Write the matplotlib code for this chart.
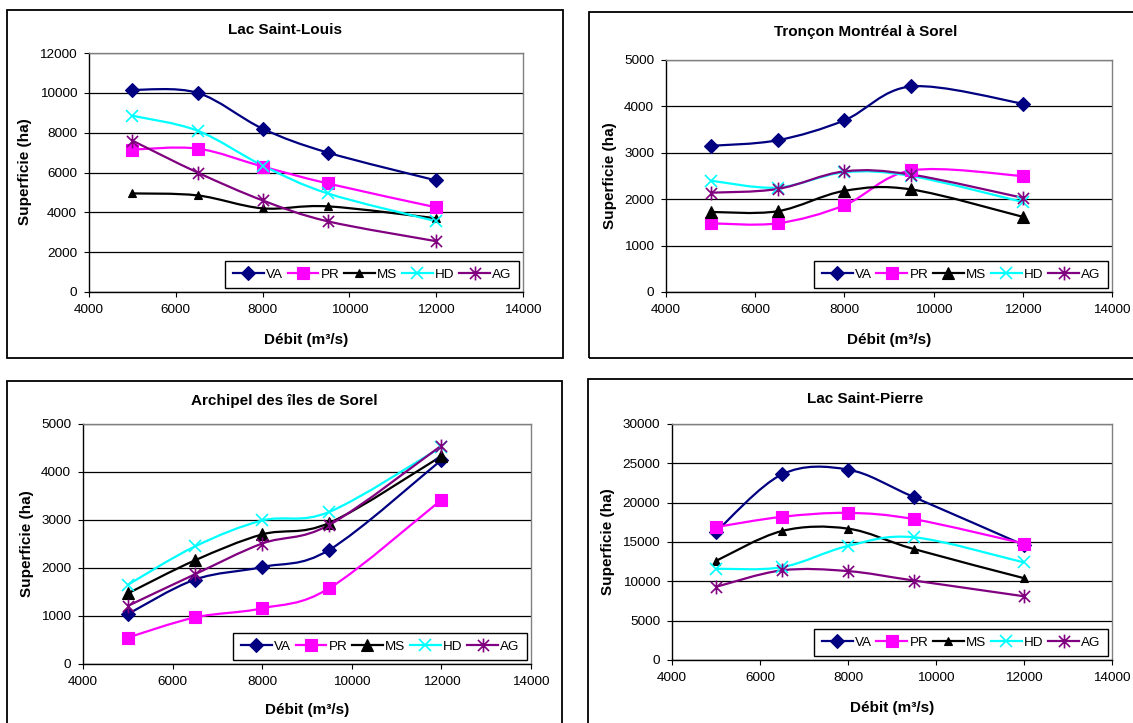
import numpy as np
import matplotlib
matplotlib.use('Agg')
import matplotlib.pyplot as plt
from matplotlib.path import Path
from matplotlib.patches import PathPatch, Rectangle
from matplotlib.lines import Line2D

plt.rcParams['font.family'] = ['Liberation Sans', 'DejaVu Sans']

# ---------------- data ----------------
debit = [5000, 6500, 8000, 9500, 12000]
series_names = ['VA', 'PR', 'MS', 'HD', 'AG']

titles = ['Lac Saint-Louis', 'Tronçon Montréal à Sorel',
          'Archipel des îles de Sorel', 'Lac Saint-Pierre']

# Lac Saint-Louis
sl_VA = [10150, 10000, 8200, 7000, 5600]
sl_PR = [7150, 7200, 6300, 5450, 4250]
sl_MS = [4950, 4850, 4200, 4300, 3700]
sl_HD = [8850, 8100, 6350, 4950, 3550]
sl_AG = [7600, 6000, 4600, 3550, 2550]

# Tronçon Montréal à Sorel
tm_VA = [3150, 3270, 3700, 4430, 4060]
tm_PR = [1480, 1480, 1870, 2620, 2500]
tm_MS = [1725, 1740, 2180, 2210, 1620]
tm_HD = [2400, 2250, 2580, 2500, 1940]
tm_AG = [2140, 2220, 2600, 2530, 2030]

# Archipel des îles de Sorel
ar_VA = [1040, 1760, 2020, 2380, 4250]
ar_PR = [550, 970, 1160, 1580, 3420]
ar_MS = [1470, 2160, 2700, 2940, 4330]
ar_HD = [1650, 2450, 2990, 3170, 4520]
ar_AG = [1210, 1870, 2510, 2900, 4550]

# Lac Saint-Pierre
sp_VA = [16300, 23600, 24200, 20700, 14600]
sp_PR = [16900, 18200, 18700, 17900, 14800]
sp_MS = [12600, 16400, 16700, 14100, 10400]
sp_HD = [11600, 11800, 14500, 15600, 12400]
sp_AG = [9300, 11400, 11300, 10100, 8100]

yticks_sl = [0, 2000, 4000, 6000, 8000, 10000, 12000]
yticks_tm = [0, 1000, 2000, 3000, 4000, 5000]
yticks_ar = [0, 1000, 2000, 3000, 4000, 5000]
yticks_sp = [0, 5000, 10000, 15000, 20000, 25000, 30000]
xticks = [4000, 6000, 8000, 10000, 12000, 14000]

panels = [
    dict(title=titles[0], data=[sl_VA, sl_PR, sl_MS, sl_HD, sl_AG], yticks=yticks_sl,
         ax=(89, 53, 523, 292), box=(7, 10, 563, 358), tri=5.5,
         title_xy=(285, 30), xl_xy=(306, 340), yl_xy=(25, 172)),
    dict(title=titles[1], data=[tm_VA, tm_PR, tm_MS, tm_HD, tm_AG], yticks=yticks_tm,
         ax=(666, 60, 1112, 292), box=(589, 12, 1150, 358), tri=8,
         title_xy=(866, 32), xl_xy=(889, 340), yl_xy=(610, 176)),
    dict(title=titles[2], data=[ar_VA, ar_PR, ar_MS, ar_HD, ar_AG], yticks=yticks_ar,
         ax=(83, 424, 531, 664), box=(7, 381, 562, 740), tri=8,
         title_xy=(284, 401), xl_xy=(307, 710), yl_xy=(27, 544)),
    dict(title=titles[3], data=[sp_VA, sp_PR, sp_MS, sp_HD, sp_AG], yticks=yticks_sp,
         ax=(672, 424, 1112, 660), box=(588, 379, 1150, 740), tri=5.5,
         title_xy=(865, 399), xl_xy=(892, 708), yl_xy=(608, 542)),
]

# ---------------- style ----------------
W, H = 1133, 723
colors = {'VA': '#000080', 'PR': '#FF00FF', 'MS': '#000000', 'HD': '#00FFFF', 'AG': '#800080'}
star = Path([(-0.8, -0.8), (0.8, 0.8), (-0.8, 0.8), (0.8, -0.8), (0, -1), (0, 1)],
            [Path.MOVETO, Path.LINETO, Path.MOVETO, Path.LINETO, Path.MOVETO, Path.LINETO])
LW = 1.6


def marker_style(name, tri):
    c = colors[name]
    if name == 'VA':
        return dict(marker='D', ms=7.3, mfc=c, mec=c, mew=0.8)
    if name == 'PR':
        return dict(marker='s', ms=9.3, mfc=c, mec=c, mew=0.8)
    if name == 'MS':
        return dict(marker='^', ms=tri, mfc=c, mec=c, mew=0.8)
    if name == 'HD':
        return dict(marker='x', ms=8, mfc='none', mec=c, mew=1.2)
    return dict(marker=star, ms=10, mfc='none', mec=c, mew=1.2)


def smooth_path(xs, ys):
    pts = np.column_stack([xs, ys]).astype(float)
    n = len(pts)
    verts = [pts[0]]
    codes = [Path.MOVETO]
    for i in range(n - 1):
        p0 = pts[max(i - 1, 0)]
        p1 = pts[i]
        p2 = pts[i + 1]
        p3 = pts[min(i + 2, n - 1)]
        c1 = p1 + (p2 - p0) / 6.0
        c2 = p2 - (p3 - p1) / 6.0
        verts += [c1, c2, p2]
        codes += [Path.CURVE4] * 3
    return Path(verts, codes)


fig = plt.figure(figsize=(W / 100, H / 100), dpi=100)
fig.patch.set_facecolor('white')


def fx(x):
    return x / W


def fy(y):
    return 1 - y / H


for p in panels:
    bx0, by0, bx1, by1 = p['box']
    fig.patches.append(Rectangle((fx(bx0), fy(by1)), fx(bx1 - bx0), (by1 - by0) / H,
                                 transform=fig.transFigure, fill=False,
                                 edgecolor='black', linewidth=1.3, zorder=0))
    x0, y0, x1, y1 = p['ax']
    ax = fig.add_axes([fx(x0), fy(y1), fx(x1 - x0), (y1 - y0) / H])
    ax.set_xlim(4000, 14000)
    ax.set_ylim(p['yticks'][0], p['yticks'][-1])
    ax.set_xticks(xticks)
    ax.set_yticks(p['yticks'])
    ax.tick_params(direction='out', length=3.6, width=0.8, pad=5, labelsize=9.7, colors='black')
    for s in ['left', 'bottom']:
        ax.spines[s].set_color('black')
        ax.spines[s].set_linewidth(1.0)
    for s in ['top', 'right']:
        ax.spines[s].set_color('#808080')
        ax.spines[s].set_linewidth(1.0)
    ax.yaxis.grid(True, color='black', linewidth=0.9)
    ax.set_axisbelow(True)

    handles = []
    for name, vals in zip(series_names, p['data']):
        c = colors[name]
        ax.add_patch(PathPatch(smooth_path(debit, vals), facecolor='none', edgecolor=c,
                               linewidth=LW, zorder=3))
        ms = marker_style(name, p['tri'])
        ax.plot(debit, vals, linestyle='none', zorder=4, clip_on=False, **ms)
        handles.append(Line2D([0], [0], color=c, linewidth=LW, **ms))

    leg = ax.legend(handles, series_names, loc='lower right', ncol=5, fontsize=9.7,
                    frameon=True, fancybox=False, framealpha=1, edgecolor='black',
                    handlelength=2.3, handletextpad=0.15, columnspacing=0.35,
                    borderpad=0.55, borderaxespad=0.3, markerscale=1.0)
    leg.get_frame().set_linewidth(1.0)
    leg.set_zorder(10)

    fig.text(fx(p['title_xy'][0]), fy(p['title_xy'][1]), p['title'], ha='center', va='center',
             fontsize=11, fontweight='bold')
    fig.text(fx(p['xl_xy'][0]), fy(p['xl_xy'][1]), 'Débit (m³/s)', ha='center', va='center',
             fontsize=11, fontweight='bold')
    fig.text(fx(p['yl_xy'][0]), fy(p['yl_xy'][1]), 'Superficie (ha)', ha='center', va='center',
             fontsize=11, fontweight='bold', rotation=90)

fig.savefig('out.png', dpi=100, facecolor='white')
